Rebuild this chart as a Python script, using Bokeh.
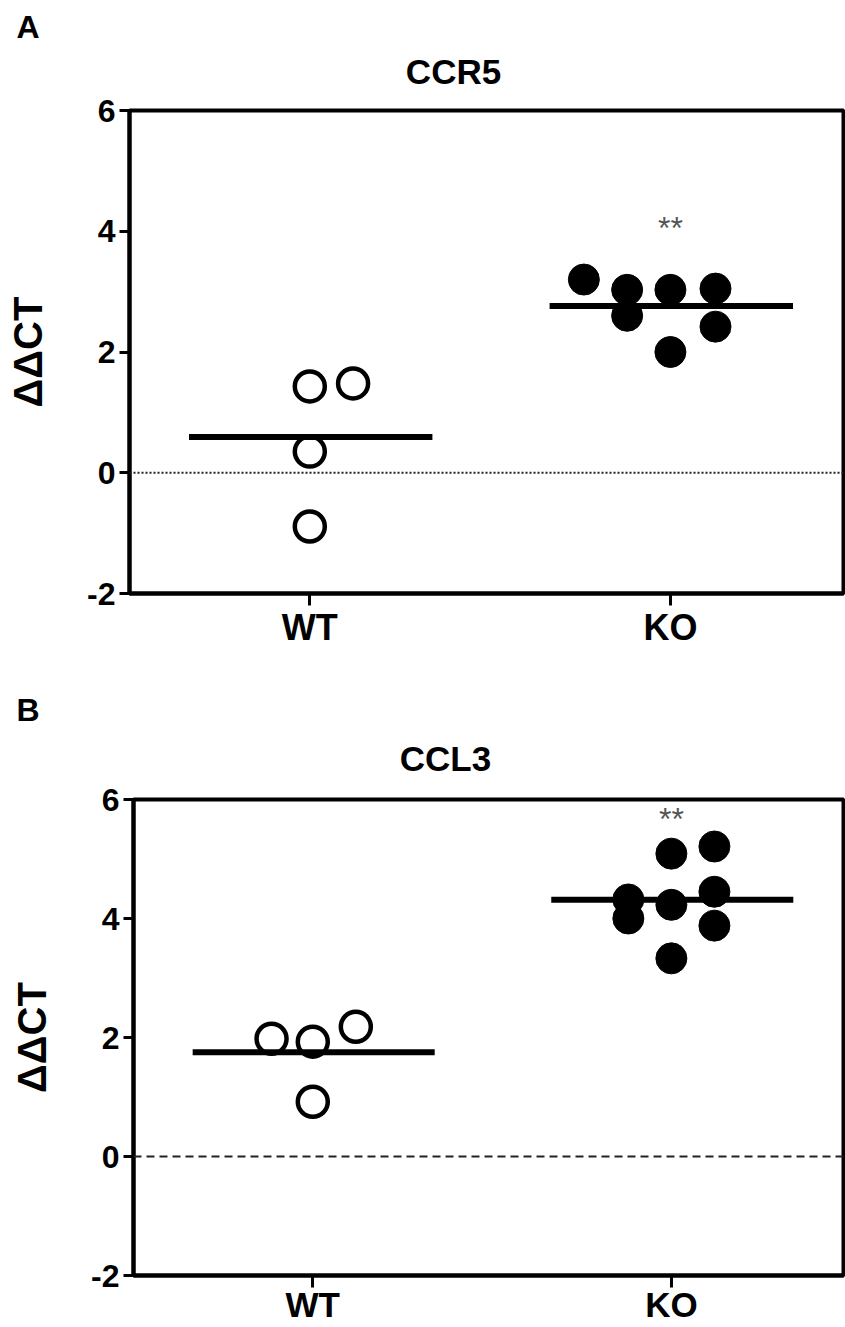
from bokeh.plotting import figure
from bokeh.models import Span, Label, FixedTicker, Range1d
from bokeh.layouts import column
from bokeh.embed import file_html
from bokeh.resources import INLINE
from bokeh.core.properties import value
import numpy as np

# ---- data ----
groups = ["WT", "KO"]
y_ticks = [-2, 0, 2, 4, 6]
y_tick_labels = {-2: "-2", 0: "0", 2: "2", 4: "4", 6: "6"}

ccr5_wt = [1.43, 1.48, 0.35, -0.89]
ccr5_ko = [3.20, 3.03, 2.60, 3.03, 2.00, 3.05, 2.42]
ccl3_wt = [1.98, 1.93, 2.18, 0.92]
ccl3_ko = [5.09, 5.21, 4.32, 4.00, 4.23, 4.45, 3.88, 3.33]

# column-scatter horizontal spread of the points (category units)
ccr5_wt_dx = [0, 0.12, 0, 0]
ccr5_ko_dx = [-0.24, -0.12, -0.12, 0, 0, 0.125, 0.125]
ccl3_wt_dx = [-0.115, 0, 0.12, 0]
ccl3_ko_dx = [0, 0.12, -0.12, -0.12, 0, 0.12, 0.12, 0]

sig_text = "**"
ccr5_sig_y = 4.05
ccl3_sig_y = 5.68

FONT = "Liberation Sans"
W = 845


def header(letter, title, H, letter_y, title_x, title_y):
    h = figure(width=W, height=H, x_range=Range1d(0, W), y_range=Range1d(H, 0),
               x_axis_type=None, y_axis_type=None, toolbar_location=None,
               output_backend="svg", min_border=0, outline_line_color=None,
               frame_align=False)
    h.grid.visible = False
    h.text(x=[16], y=[letter_y], text=[letter], text_font=value(FONT),
           text_font_style="bold", text_font_size="32px", text_align="left",
           text_baseline="alphabetic", text_color="black")
    h.text(x=[title_x], y=[title_y], text=[title], text_font=value(FONT),
           text_font_style="bold", text_font_size="35px", text_align="center",
           text_baseline="alphabetic", text_color="black")
    return h


def panel(wt, ko, wt_dx, ko_dx, sig_y, zero_dash, H, top, bottom,
          left, xlabel_size, xlabel_standoff):
    p = figure(width=W, height=H, x_range=Range1d(0.5, 2.48), y_range=Range1d(-2, 6),
               output_backend="svg", toolbar_location=None, frame_align=False,
               min_border_left=left, min_border_right=2,
               min_border_top=top, min_border_bottom=bottom)
    p.xgrid.visible = False
    p.ygrid.visible = False
    p.outline_line_color = "black"
    p.outline_line_width = 4
    p.outline_line_alpha = 1.0
    p.background_fill_color = "white"
    p.border_fill_color = "white"

    # y axis
    ya = p.yaxis[0]
    ya.ticker = FixedTicker(ticks=y_ticks)
    ya.major_label_overrides = y_tick_labels
    ya.axis_line_width = 4
    ya.major_tick_line_width = 3
    ya.major_tick_out = 10
    ya.major_tick_in = 0
    ya.minor_tick_out = 0
    ya.minor_tick_in = 0
    ya.major_label_standoff = 4
    ya.major_label_text_font = FONT
    ya.major_label_text_font_style = "bold"
    ya.major_label_text_font_size = "32px"
    ya.major_label_text_color = "black"
    ya.axis_label = "ΔΔCT"
    ya.axis_label_text_font = FONT
    ya.axis_label_text_font_style = "bold"
    ya.axis_label_text_font_size = "40px"
    ya.axis_label_standoff = 34
    ya.axis_label_text_color = "black"

    # x axis
    xa = p.xaxis[0]
    xa.ticker = FixedTicker(ticks=[1, 2])
    xa.major_label_overrides = {1: groups[0], 2: groups[1]}
    xa.axis_line_width = 4
    xa.major_tick_line_width = 3
    xa.major_tick_out = 12
    xa.major_tick_in = 0
    xa.minor_tick_out = 0
    xa.minor_tick_in = 0
    xa.major_label_standoff = xlabel_standoff
    xa.major_label_text_font = FONT
    xa.major_label_text_font_style = "bold"
    xa.major_label_text_font_size = xlabel_size
    xa.major_label_text_color = "black"

    # zero reference line
    p.add_layout(Span(location=0, dimension="width", line_color="#222222",
                      line_width=2, line_dash=zero_dash))

    # points
    xw = [1 + d for d in wt_dx]
    xk = [2 + d for d in ko_dx]
    p.scatter(xw, wt, marker="circle", size=30, fill_color="white",
              line_color="black", line_width=4.5)
    p.scatter(xk, ko, marker="circle", size=31, fill_color="black",
              line_color="black", line_width=1)

    # mean lines
    means = [float(np.mean(wt)), float(np.mean(ko))]
    p.segment(x0=[1 - 0.335, 2 - 0.335], x1=[1 + 0.34, 2 + 0.34],
              y0=means, y1=means, line_color="black", line_width=6,
              line_cap="butt")

    # significance marks
    p.add_layout(Label(x=2, y=sig_y, text=sig_text, text_align="center",
                       text_baseline="middle", text_font=FONT,
                       text_font_size="32px", text_color="#555555"))
    return p


ha = header("A", "CCR5", 91, 26.5, 453, 71)
pa = panel(ccr5_wt, ccr5_ko, ccr5_wt_dx, ccr5_ko_dx, ccr5_sig_y, "2 2",
           559, 19, 57, 129, "36px", 1)
hb = header("B", "CCL3", 130, 59.5, 445, 107.5)
pb = panel(ccl3_wt, ccl3_ko, ccl3_wt_dx, ccl3_ko_dx, ccl3_sig_y, "8 5",
           547, 19, 52, 133, "35px", -3)

layout = column(ha, pa, hb, pb, spacing=0)
open("out.html", "w").write(file_html(layout, INLINE))
